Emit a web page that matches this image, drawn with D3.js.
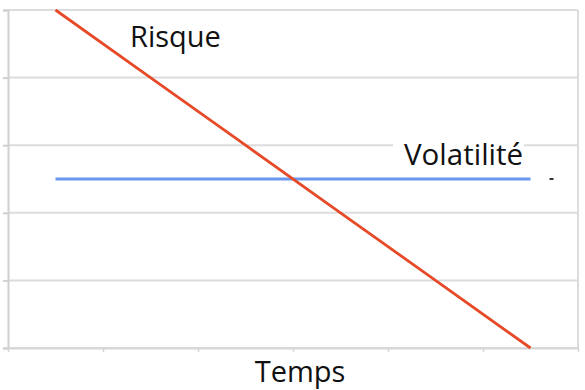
<!DOCTYPE html>
<html>
<head>
<meta charset="utf-8">
<script src="https://cdn.jsdelivr.net/npm/d3@7"></script>
<style>
  html, body { margin: 0; padding: 0; background: #fff; }
  svg { display: block; }
  text { font-family: "Open Sans", "Noto Sans", sans-serif; fill: #111; }
</style>
</head>
<body>
<svg id="chart" width="585" height="390"></svg>
<script>
const categories = ["1", "2", "3", "4", "5", "6"];
const risque = [5, 4, 3, 2, 1, 0];
const volatilite = [2.5, 2.5, 2.5, 2.5, 2.5, 2.5];
const yTicks = [0, 1, 2, 3, 4, 5];
const axisTitle = "Temps";
const seriesNames = ["Risque", "Volatilité"];

(function () {
const svg = d3.select("#chart");
const mLeft = 8, mRight = 578, mTop = 10, mBottom = 348;

const x = d3.scaleBand().domain(categories).range([mLeft, mRight]).padding(0);
const y = d3.scaleLinear().domain([0, 5]).range([mBottom, mTop]);
const cx = c => x(c) + x.bandwidth() / 2;

// gridlines
svg.append("g").selectAll("line").data(yTicks).join("line")
  .attr("x1", mLeft).attr("x2", mRight)
  .attr("y1", d => y(d)).attr("y2", d => y(d))
  .attr("stroke", "#dcdcdc").attr("stroke-width", 2);

// right border
svg.append("line").attr("x1", mRight).attr("x2", mRight)
  .attr("y1", y(5)).attr("y2", y(0)).attr("stroke", "#dcdcdc").attr("stroke-width", 2);

// left axis
const yAxis = d3.axisLeft(y).tickValues(yTicks).tickSize(5).tickFormat("");
const gy = svg.append("g").attr("transform", `translate(${mLeft},0)`).call(yAxis);
gy.select(".domain").attr("stroke", "#d0d0d0").attr("stroke-width", 2);
gy.selectAll(".tick line").attr("stroke", "#d0d0d0").attr("stroke-width", 2);

// bottom axis (ticks at category boundaries)
const bTicks = categories.map(c => x(c)).concat([mRight]);
const xb = d3.scaleLinear().domain([mLeft, mRight]).range([mLeft, mRight]);
const xAxis = d3.axisBottom(xb).tickValues(bTicks).tickSize(4).tickFormat("").tickSizeOuter(0);
const gx = svg.append("g").attr("transform", `translate(0,${mBottom})`).call(xAxis);
gx.select(".domain").attr("stroke", "#d6d6d6").attr("stroke-width", 2);
gx.selectAll(".tick line").attr("stroke", "#d6d6d6").attr("stroke-width", 1.5);

// Volatilité label background (covers gridline)
const vLabelBg = svg.append("rect").attr("fill", "#fff");

const line = d3.line().x((d, i) => cx(categories[i])).y(d => y(d));

svg.append("path").datum(volatilite).attr("d", line)
  .attr("fill", "none").attr("stroke", "#6a98ee").attr("stroke-width", 2.8);

svg.append("path").datum(risque).attr("d", line)
  .attr("fill", "none").attr("stroke", "#e64a28").attr("stroke-width", 2.8);

// labels
svg.append("text").attr("x", 130).attr("y", 47)
  .attr("font-size", 29).text(seriesNames[0]);

const vt = svg.append("text").attr("x", 404).attr("y", 165)
  .attr("font-size", 29.5).text(seriesNames[1]);
const bb = vt.node().getBBox();
vLabelBg.attr("x", bb.x - 11).attr("y", y(3) - 3).attr("width", bb.width + 12).attr("height", 6);

// small mark right of blue line
svg.append("line").attr("x1", cx(categories[5]) + 19).attr("x2", cx(categories[5]) + 23)
  .attr("y1", y(2.5)).attr("y2", y(2.5)).attr("stroke", "#333").attr("stroke-width", 2);

svg.append("text").attr("x", (mLeft + mRight) / 2 + 7).attr("y", 382)
  .attr("text-anchor", "middle").attr("font-size", 29).text(axisTitle);
})();
</script>
</body>
</html>
